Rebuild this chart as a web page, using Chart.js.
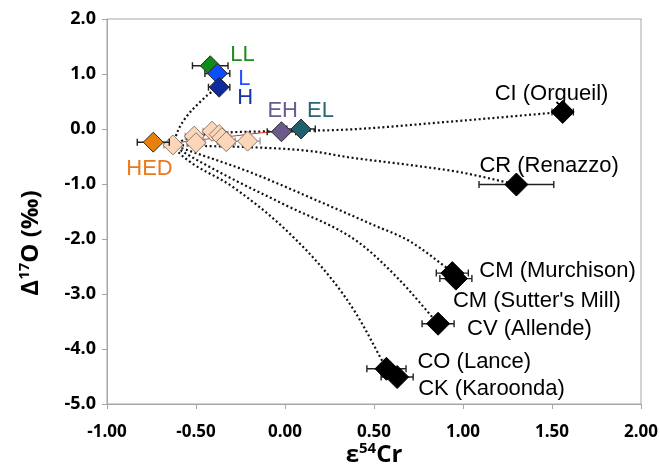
<!DOCTYPE html>
<html>
<head>
<meta charset="utf-8">
<script src="https://cdn.jsdelivr.net/npm/chart.js@4.4.1/dist/chart.umd.min.js"></script>
<style>
html, body { margin: 0; padding: 0; background: #fff; }
</style>
</head>
<body>
<canvas id="crChart" width="660" height="471"></canvas>
<script>
// tick labels
const xTickLabels = ['-1.00', '-0.50', '0.00', '0.50', '1.00', '1.50', '2.00'];
const yTickLabels = ['-5.0', '-4.0', '-3.0', '-2.0', '-1.0', '0.0', '1.0', '2.0'];

// carbonaceous chondrites
const chondriteNames = ['CI (Orgueil)', 'CR (Renazzo)', 'CM (Murchison)', "CM (Sutter's Mill)", 'CV (Allende)', 'CO (Lance)', 'CK (Karoonda)'];
const chondriteCr = [1.56, 1.30, 0.94, 0.96, 0.86, 0.57, 0.63];
const chondriteO = [0.31, -1.01, -2.62, -2.72, -3.54, -4.36, -4.51];
const chondriteCrErr = [0.06, 0.21, 0.09, 0.09, 0.09, 0.11, 0.09];

// ordinary, enstatite chondrites and HED
const groupNames = ['HED', 'LL', 'L', 'H', 'EH', 'EL'];
const groupCr = [-0.74, -0.42, -0.38, -0.37, -0.02, 0.09];
const groupO = [-0.24, 1.15, 1.01, 0.76, -0.05, 0.00];
const groupCrErr = [0.09, 0.10, 0.07, 0.06, 0.08, 0.08];

// other achondrites
const achondriteCr = [-0.63, -0.51, -0.50, -0.41, -0.37, -0.355, -0.33, -0.21];
const achondriteO = [-0.29, -0.13, -0.25, -0.04, -0.10, -0.16, -0.23, -0.22];
const achondriteCrErr = [0.05, 0.05, 0.05, 0.05, 0.05, 0.05, 0.05, 0.07];

// red trend line through the achondrites
const trendCr = [-0.59, -0.08];
const trendO = [-0.24, -0.05];

// mixing curves
const mixHCr = [-0.63, -0.60, -0.55, -0.49, -0.43, -0.37];
const mixHO = [-0.29, -0.02, 0.24, 0.45, 0.63, 0.76];
const mixCICr = [-0.63, -0.52, -0.35, -0.05, 0.35, 0.95, 1.56];
const mixCIO = [-0.29, -0.14, -0.07, -0.04, -0.01, 0.14, 0.31];
const mixCRCr = [-0.63, -0.44, -0.20, 0.14, 0.37, 0.74, 0.99, 1.30];
const mixCRO = [-0.29, -0.31, -0.33, -0.40, -0.52, -0.67, -0.79, -1.01];
const mixCMCr = [-0.63, -0.57, -0.20, 0.18, 0.50, 0.70, 0.94];
const mixCMO = [-0.29, -0.36, -0.78, -1.30, -1.75, -2.04, -2.60];
const mixCVCr = [-0.63, -0.57, -0.30, 0.00, 0.40, 0.63, 0.86];
const mixCVO = [-0.29, -0.42, -0.90, -1.38, -2.03, -2.70, -3.54];
const mixCOCr = [-0.63, -0.59, -0.29, -0.01, 0.26, 0.40, 0.57];
const mixCOO = [-0.29, -0.45, -1.06, -1.79, -2.72, -3.36, -4.36];

const groupFill = ['#e8800e', '#118a1c', '#0c4dff', '#0d2a9e', '#6c5a8c', '#1f5f6e'];
const groupText = ['#e87a1e', '#1f8c1f', '#2450ff', '#1a34a6', '#6c5a8c', '#2a6572'];
const groupOffsets = [[-27, 27], [20, -11], [21, 5], [18, 11], [-14, -21], [6, -18]];
const chondriteOffsets = [[-68, -18], [-37, -19], [27, -2], [-3, 22], [29, 5], [31, -7], [21, 12]];

const pts = (xs, ys) => xs.map((v, i) => ({ x: v, y: ys[i] }));

function mixLine(xs, ys) {
  return {
    data: pts(xs, ys),
    showLine: true,
    pointRadius: 0,
    borderColor: '#111',
    borderWidth: 2.2,
    borderDash: [2, 2.6],
    cubicInterpolationMode: 'monotone',
    order: 10
  };
}

const errorBars = {
  id: 'errorBars',
  beforeDatasetDraw(chart, args) {
    const ds = chart.data.datasets[args.index];
    if (!ds.xErr) return;
    const { ctx, scales: { x, y } } = chart;
    ctx.save();
    ctx.strokeStyle = ds.errColor;
    ctx.lineWidth = 1.4;
    ds.data.forEach((p, i) => {
      const py = y.getPixelForValue(p.y);
      const x0 = x.getPixelForValue(p.x - ds.xErr[i]);
      const x1 = x.getPixelForValue(p.x + ds.xErr[i]);
      ctx.beginPath();
      ctx.moveTo(x0, py); ctx.lineTo(x1, py);
      ctx.moveTo(x0, py - 3.5); ctx.lineTo(x0, py + 3.5);
      ctx.moveTo(x1, py - 3.5); ctx.lineTo(x1, py + 3.5);
      ctx.stroke();
    });
    ctx.restore();
  }
};

const pointLabels = {
  id: 'pointLabels',
  afterDatasetsDraw(chart) {
    const { ctx, scales: { x, y } } = chart;
    ctx.save();
    ctx.font = '22px "Liberation Sans", Arial, sans-serif';
    ctx.textBaseline = 'middle';
    ctx.textAlign = 'left';
    chart.data.datasets.forEach(ds => {
      if (!ds.labels) return;
      ds.data.forEach((p, i) => {
        ctx.fillStyle = ds.labelColors[i];
        ctx.fillText(ds.labels[i],
          x.getPixelForValue(p.x) + ds.labelOffsets[i][0],
          y.getPixelForValue(p.y) + ds.labelOffsets[i][1]);
      });
    });
    ctx.restore();
  }
};

const frame = {
  id: 'frame',
  beforeDatasetsDraw(chart) {
    const { ctx, chartArea: a } = chart;
    ctx.save();
    ctx.strokeStyle = '#a6a6a6';
    ctx.lineWidth = 1;
    ctx.strokeRect(a.left, a.top, a.right - a.left, a.bottom - a.top);
    ctx.restore();
  }
};

const yTitleParts = [['\u0394', false], ['17', true], ['O (\u2030)', false]];
const xTitleParts = [['\u03b5', false], ['54', true], ['Cr', false]];

function drawTitle(ctx, parts, cx, baseline) {
  const big = 'bold 24px "Open Sans", Lato, sans-serif';
  const small = 'bold 15px "Open Sans", Lato, sans-serif';
  let w = 0;
  parts.forEach(([t, s]) => { ctx.font = s ? small : big; w += ctx.measureText(t).width; });
  let xx = cx - w / 2;
  ctx.textAlign = 'left';
  ctx.textBaseline = 'alphabetic';
  parts.forEach(([t, s]) => {
    ctx.font = s ? small : big;
    ctx.fillText(t, xx, baseline - (s ? 9 : 0));
    xx += ctx.measureText(t).width;
  });
}

const axisTitles = {
  id: 'axisTitles',
  afterDraw(chart) {
    const ctx = chart.ctx;
    ctx.save();
    ctx.fillStyle = '#000';
    drawTitle(ctx, xTitleParts, 374, 462);
    ctx.translate(38, 243);
    ctx.rotate(-Math.PI / 2);
    drawTitle(ctx, yTitleParts, 0, 0);
    ctx.restore();
  }
};

new Chart(document.getElementById('crChart'), {
  type: 'scatter',
  data: {
    datasets: [
      {
        data: pts(chondriteCr, chondriteO),
        pointStyle: 'rectRot',
        pointRadius: 11.5,
        backgroundColor: '#000',
        borderColor: '#000',
        borderWidth: 1,
        xErr: chondriteCrErr,
        errColor: '#222',
        labels: chondriteNames,
        labelColors: chondriteNames.map(() => '#000'),
        labelOffsets: chondriteOffsets,
        order: 1
      },
      {
        data: pts(groupCr, groupO),
        pointStyle: 'rectRot',
        pointRadius: 10,
        backgroundColor: groupFill,
        borderColor: '#2b2b2b',
        borderWidth: 1,
        xErr: groupCrErr,
        errColor: '#222',
        labels: groupNames,
        labelColors: groupText,
        labelOffsets: groupOffsets,
        order: 3
      },
      {
        data: pts(achondriteCr, achondriteO),
        pointStyle: 'rectRot',
        pointRadius: 10,
        backgroundColor: '#fcd6b8',
        borderColor: '#6e6259',
        borderWidth: 0.8,
        xErr: achondriteCrErr,
        errColor: '#9a9a9a',
        order: 5
      },
      {
        data: pts(trendCr, trendO),
        showLine: true,
        pointRadius: 0,
        borderColor: '#e0301e',
        borderWidth: 1,
        order: 9
      },
      mixLine(mixHCr, mixHO),
      mixLine(mixCICr, mixCIO),
      mixLine(mixCRCr, mixCRO),
      mixLine(mixCMCr, mixCMO),
      mixLine(mixCVCr, mixCVO),
      mixLine(mixCOCr, mixCOO)
    ]
  },
  options: {
    responsive: false,
    animation: false,
    layout: { padding: { top: 19, right: 19, left: 0, bottom: 0 } },
    plugins: {
      legend: { display: false },
      tooltip: { enabled: false }
    },
    scales: {
      x: {
        type: 'linear',
        min: -1,
        max: 2,
        afterFit: s => { s.height = 67; s.paddingLeft = 0; s.paddingRight = 0; },
        ticks: {
          stepSize: 0.5,
          padding: 13,
          color: '#000',
          font: { family: "'Open Sans'", weight: 'bold', size: 17 },
          callback: (v, i) => xTickLabels[i]
        },
        grid: { drawOnChartArea: false, tickLength: 5, color: '#a6a6a6' },
        border: { color: '#a6a6a6' }
      },
      y: {
        type: 'linear',
        min: -5,
        max: 2,
        afterFit: s => { s.width = 107; s.paddingTop = 0; s.paddingBottom = 0; },
        ticks: {
          stepSize: 1,
          padding: 6,
          color: '#000',
          font: { family: "'Open Sans'", weight: 'bold', size: 18 },
          callback: (v, i) => yTickLabels[i]
        },
        grid: { drawOnChartArea: false, tickLength: 5, color: '#a6a6a6' },
        border: { color: '#a6a6a6' }
      }
    }
  },
  plugins: [frame, errorBars, pointLabels, axisTitles]
});
</script>
</body>
</html>
